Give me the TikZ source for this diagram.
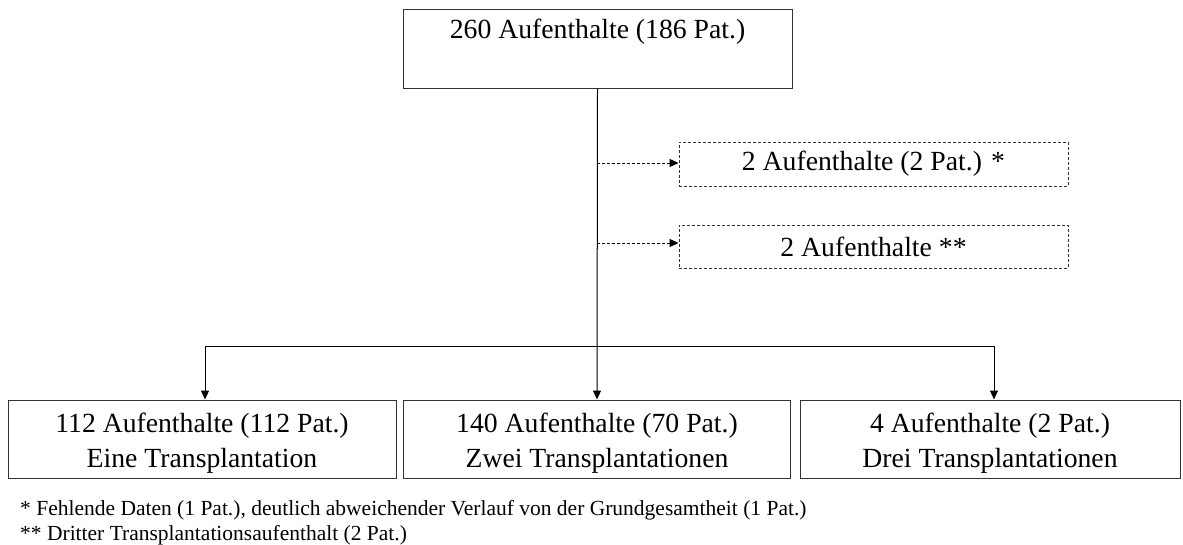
\documentclass[tikz,border=0pt]{standalone}
\usepackage{fontspec}
\setmainfont{Liberation Serif}
\usetikzlibrary{arrows.meta}
\tikzset{
	kasten/.style={draw=black!80, line width=1pt, inner sep=0pt, align=center, font=\fontsize{27.7}{35}\selectfont},
	strich/.style={dash pattern=on 3pt off 2pt, line width=0.9pt},
	pfeil/.style={-{Triangle[length=9pt,width=8pt]}, line width=1pt},
	fussnote/.style={anchor=west, inner sep=0pt, font=\fontsize{21.5}{26}\selectfont}
}
\begin{document}
\begin{tikzpicture}[x=1pt,y=-1pt]
		\useasboundingbox (0,0) rectangle (1183,544);
		% Gesamtheit oben
		\node [kasten, minimum width=389pt, minimum height=79pt] (gesamt) at (597.5,48.5) {\rule{0pt}{27pt}260 Aufenthalte (186 Pat.)\\\rule[-13pt]{0pt}{13pt}};
		% ausgeschlossene Aufenthalte
		\node [kasten, strich, minimum width=389pt, minimum height=44pt] (fehlend) at (873.5,164) {2 Aufenthalte (2 Pat.) *};
		\node [kasten, strich, minimum width=389pt, minimum height=43pt] (dritter) at (873.5,246.5) {2 Aufenthalte **};
		% Gruppen unten
		\node [kasten, minimum width=388pt, minimum height=78pt] (eine) at (202,439) {\rule{0pt}{27pt}112 Aufenthalte (112 Pat.)\\Eine Transplantation};
		\node [kasten, minimum width=387pt, minimum height=78pt] (zwei) at (597,439) {\rule{0pt}{27pt}140 Aufenthalte (70 Pat.)\\Zwei Transplantationen};
		\node [kasten, minimum width=380pt, minimum height=78pt] (drei) at (990,439) {\rule{0pt}{27pt}4 Aufenthalte (2 Pat.)\\Drei Transplantationen};
		% Verbindungen
		\coordinate (links) at (205,346);
		\coordinate (rechts) at (994,346);
		\coordinate (ab1) at (597,163);
		\coordinate (ab2) at (597,243);
		\draw [pfeil] (gesamt.south) -- (zwei.north);
		\draw [line width=1pt] (links) -- (rechts);
		\draw [pfeil] (links) -- (links |- eine.north);
		\draw [pfeil] (rechts) -- (rechts |- drei.north);
		\draw [pfeil, strich] (ab1) -- (ab1 -| fehlend.west);
		\draw [pfeil, strich] (ab2) -- (ab2 -| dritter.west);
		% Fussnoten
		\node [fussnote] (fn1) at (20,510) {* Fehlende Daten (1 Pat.), deutlich abweichender Verlauf von der Grundgesamtheit (1 Pat.)};
		\node [fussnote] (fn2) at (20,535) {** Dritter Transplantationsaufenthalt (2 Pat.)};
	\end{tikzpicture}
\end{document}
